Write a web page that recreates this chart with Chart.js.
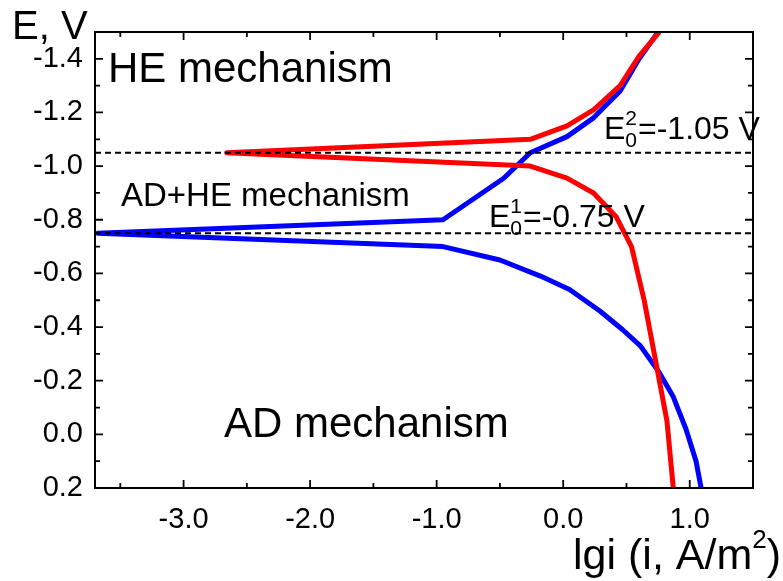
<!DOCTYPE html>
<html>
<head>
<meta charset="utf-8">
<script src="https://cdn.jsdelivr.net/npm/chart.js@4"></script>
<style>
html, body { margin: 0; padding: 0; background: #fff; }
</style>
</head>
<body>
<canvas id="chart" width="783" height="581"></canvas>
<script>
// Polarization curves, lg i vs E
const redLgi  = [0.76, 0.60, 0.45, 0.24, 0.03, -0.26, -2.66, -0.26, 0.03, 0.24, 0.42, 0.54, 0.64, 0.74, 0.82, 0.87];
const redE    = [-1.50, -1.41, -1.30, -1.21, -1.15, -1.10, -1.05, -1.00, -0.955, -0.90, -0.81, -0.70, -0.50, -0.25, -0.05, 0.20];
const blueLgi = [0.75, 0.60, 0.45, 0.24, 0.03, -0.26, -0.47, -0.95, -3.68, -0.95, -0.50, -0.18, 0.05, 0.29, 0.47, 0.61, 0.76, 0.87, 0.97, 1.05, 1.09];
const blueE   = [-1.50, -1.40, -1.28, -1.18, -1.11, -1.05, -0.955, -0.80, -0.75, -0.70, -0.65, -0.59, -0.54, -0.46, -0.39, -0.33, -0.23, -0.14, -0.02, 0.10, 0.20];

// equilibrium potentials (dashed lines)
const E0 = [-1.05, -0.75];

const xRange = [-3.7, 1.5];
const yRange = [-1.5, 0.2];
const xTicks = [-3, -2, -1, 0, 1];
const yTicks = [-1.4, -1.2, -1.0, -0.8, -0.6, -0.4, -0.2, 0.0, 0.2];

const FONT = "'Liberation Sans', Arial, sans-serif";

function toPoints(xs, ys) {
    return xs.map((x, i) => ({ x: x, y: ys[i] }));
}

// frame + inward ticks on all four sides
const framePlugin = {
    id: 'frame',
    afterDatasetsDraw(chart) {
        const { ctx, chartArea: a, scales } = chart;
        const xs = scales.x, ys = scales.y;
        ctx.save();
        ctx.strokeStyle = '#000';
        ctx.lineWidth = 2;
        ctx.strokeRect(a.left, a.top, a.right - a.left, a.bottom - a.top);
        ctx.beginPath();
        ctx.lineWidth = 1.8;
        for (let v = -3.5; v < 1.5; v += 0.5) {
            const px = xs.getPixelForValue(v);
            const len = Math.abs(v - Math.round(v)) < 1e-6 ? 8 : 5;
            ctx.moveTo(px, a.bottom); ctx.lineTo(px, a.bottom - len);
            ctx.moveTo(px, a.top); ctx.lineTo(px, a.top + len);
        }
        for (let k = -14; k <= 1; k++) {
            const v = k / 10;
            const py = ys.getPixelForValue(v);
            const len = k % 2 === 0 ? 8 : 5;
            ctx.moveTo(a.left, py); ctx.lineTo(a.left + len, py);
            ctx.moveTo(a.right, py); ctx.lineTo(a.right - len, py);
        }
        ctx.stroke();
        ctx.restore();
    }
};

// E with sub 0 and superscript n
function drawE0(ctx, x, y, sup, rest) {
    ctx.font = '32px ' + FONT;
    ctx.fillText('E', x, y);
    let w = ctx.measureText('E').width;
    ctx.font = '21px ' + FONT;
    ctx.fillText(sup, x + w, y - 14);
    ctx.fillText('0', x + w, y + 8);
    w += ctx.measureText('0').width + 1;
    ctx.font = '32px ' + FONT;
    ctx.fillText(rest, x + w, y);
}

const textPlugin = {
    id: 'texts',
    afterDraw(chart) {
        const ctx = chart.ctx;
        ctx.save();
        ctx.fillStyle = '#000';
        ctx.textBaseline = 'alphabetic';
        ctx.textAlign = 'left';
        ctx.font = '42px ' + FONT;
        ctx.fillText('HE mechanism', 108, 82);
        ctx.fillText('AD mechanism', 224, 437);
        ctx.font = '33px ' + FONT;
        ctx.fillText('AD+HE mechanism', 121, 206);
        drawE0(ctx, 604, 139, '2', '=-1.05 V');
        drawE0(ctx, 489, 227, '1', '=-0.75 V');

        // axis titles
        ctx.font = '40px ' + FONT;
        ctx.fillText('E, V', 12, 39);
        ctx.textAlign = 'right';
        ctx.font = '43px ' + FONT;
        const closeW = ctx.measureText(')').width;
        ctx.fillText(')', 781, 569);
        ctx.font = '26px ' + FONT;
        ctx.fillText('2', 781 - closeW, 548);
        const supW = ctx.measureText('2').width;
        ctx.font = '43px ' + FONT;
        ctx.fillText('lgi (i, A/m', 781 - closeW - supW, 569);
        ctx.restore();
    }
};

const ctx = document.getElementById('chart').getContext('2d');
new Chart(ctx, {
    type: 'scatter',
    data: {
        datasets: [
            {
                data: [{ x: xRange[0], y: E0[0] }, { x: xRange[1], y: E0[0] }],
                showLine: true, borderColor: '#000', borderWidth: 2, borderDash: [6, 4],
                pointRadius: 0, order: 0
            },
            {
                data: [{ x: xRange[0], y: E0[1] }, { x: xRange[1], y: E0[1] }],
                showLine: true, borderColor: '#000', borderWidth: 2, borderDash: [6, 4],
                pointRadius: 0, order: 0
            },
            {
                data: toPoints(redLgi, redE),
                showLine: true, borderColor: '#ff0000', borderWidth: 5,
                pointRadius: 0, order: 1, borderJoinStyle: 'round'
            },
            {
                data: toPoints(blueLgi, blueE),
                showLine: true, borderColor: '#0000ff', borderWidth: 5,
                pointRadius: 0, order: 2, borderJoinStyle: 'round'
            }
        ]
    },
    options: {
        responsive: false,
        animation: false,
        devicePixelRatio: 1,
        layout: { padding: { top: 32, right: 30, left: 0, bottom: 0 } },
        plugins: { legend: { display: false }, tooltip: { enabled: false } },
        scales: {
            x: {
                type: 'linear', min: xRange[0], max: xRange[1],
                afterBuildTicks: s => { s.ticks = xTicks.map(v => ({ value: v })); },
                afterFit: s => { s.height = 93; },
                grid: { display: false, drawTicks: false },
                border: { display: false },
                ticks: {
                    color: '#000', padding: 15, maxRotation: 0,
                    font: { family: FONT, size: 29 },
                    callback: v => Number(v).toFixed(1)
                }
            },
            y: {
                type: 'linear', reverse: true, min: yRange[0], max: yRange[1],
                afterBuildTicks: s => { s.ticks = yTicks.map(v => ({ value: v })); },
                afterFit: s => { s.width = 95; },
                grid: { display: false, drawTicks: false },
                border: { display: false },
                ticks: {
                    color: '#000', padding: 12,
                    font: { family: FONT, size: 29 },
                    callback: v => Number(v).toFixed(1)
                }
            }
        }
    },
    plugins: [framePlugin, textPlugin]
});
</script>
</body>
</html>
